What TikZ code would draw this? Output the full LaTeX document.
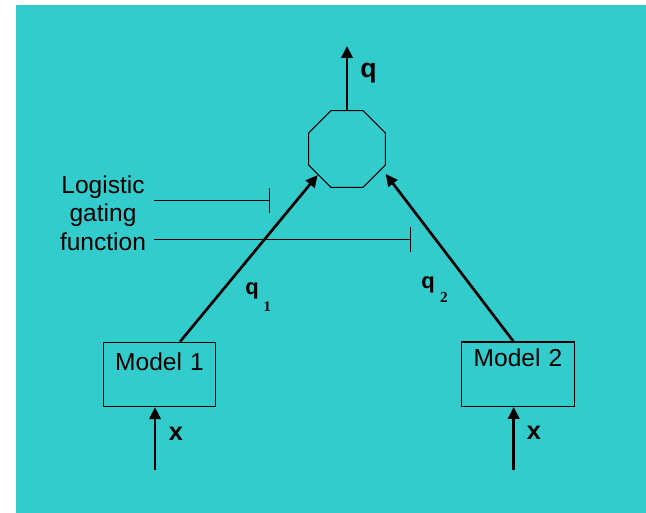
\documentclass[tikz,border=0pt]{standalone}
\usepackage{fontspec}
\setmainfont{Liberation Sans}
\newfontfamily\subfont{Liberation Serif}
\usetikzlibrary{arrows.meta,shapes.geometric}
\definecolor{bgteal}{RGB}{51,204,204}
\begin{document}
\begin{tikzpicture}[x=0.75pt,y=-0.75pt,
  flow/.style={line width=2pt, -{Triangle[length=9pt,width=8.5pt]}},
  gate/.style={line width=0.75pt, -{Bar[width=19pt,line width=0.75pt]}},
  model/.style={draw, line width=0.9pt, inner sep=0pt, text width=84.3pt,
    align=center, anchor=north, font=\fontsize{18.4pt}{22pt}\selectfont},
  boldlbl/.style={inner sep=0pt, font=\fontsize{19pt}{22pt}\selectfont\bfseries},
  qlbl/.style={inner sep=0pt, anchor=base west, font=\fontsize{16.5pt}{19pt}\selectfont\bfseries}
]
% canvas
\useasboundingbox (0,0) rectangle (646,513);
\fill[white] (0,0) rectangle (646,513);
\fill[bgteal] (16,5) rectangle (646,513);

% combining node
\node[regular polygon, regular polygon sides=8, draw, line width=0.75pt,
      minimum size=62.5pt, inner sep=0pt, outer sep=0pt] (oct) at (347,149) {};

% experts
\node[model, text height=21.2pt, text depth=27pt] (m1) at (159.5,341.7) {Model 1};
\node[model, text height=18.5pt, text depth=29.8pt] (m2) at (518,341.3) {Model 2};

% output
\coordinate (qtip) at (347,46);
\draw[flow] (oct.north) -- (qtip);
\node[inner sep=0pt, anchor=base, font=\fontsize{20pt}{24pt}\selectfont\bfseries] (ql) at (368.5,78) {q};

% expert outputs into the combiner
\coordinate (t1) at (317.7,175);
\coordinate (t2) at (385.7,174);
\draw[flow] ([xshift=15.4pt]m1.north) -- (t1);
\draw[flow] ([xshift=-3.5pt]m2.north) -- (t2);
\node[qlbl] (q1l) at (245.2,294.5) {q\hspace{3.5pt}\raisebox{-13pt}{\subfont\bfseries\fontsize{11pt}{13pt}\selectfont 1}};
\node[qlbl] (q2l) at (421.2,289) {q\hspace{4pt}\raisebox{-10.5pt}{\subfont\bfseries\fontsize{11.5pt}{14pt}\selectfont 2}};

% inputs
\coordinate (x1) at (155,470);
\coordinate (x2) at (513.7,470);
\draw[flow] (x1) -- (x1 |- m1.south);
\draw[flow] (x2) -- (x2 |- m2.south);
\node[boldlbl, anchor=base] (xl1) at (176,440) {x};
\node[boldlbl, anchor=base] (xl2) at (534,439) {x};

% gating
\node[align=center, anchor=north, inner sep=0pt,
      font=\fontsize{18.4pt}{21.6pt}\selectfont] (gl) at (103,175) {Logistic\\gating\\function};
\coordinate (ga) at (154.3,200.7);
\coordinate (gb) at (270,200.7);
\coordinate (gc) at (154.3,239.3);
\coordinate (gd) at (411,239.3);
\draw[gate] (ga) -- (gb);
\draw[gate] (gc) -- (gd);
\end{tikzpicture}
\end{document}
